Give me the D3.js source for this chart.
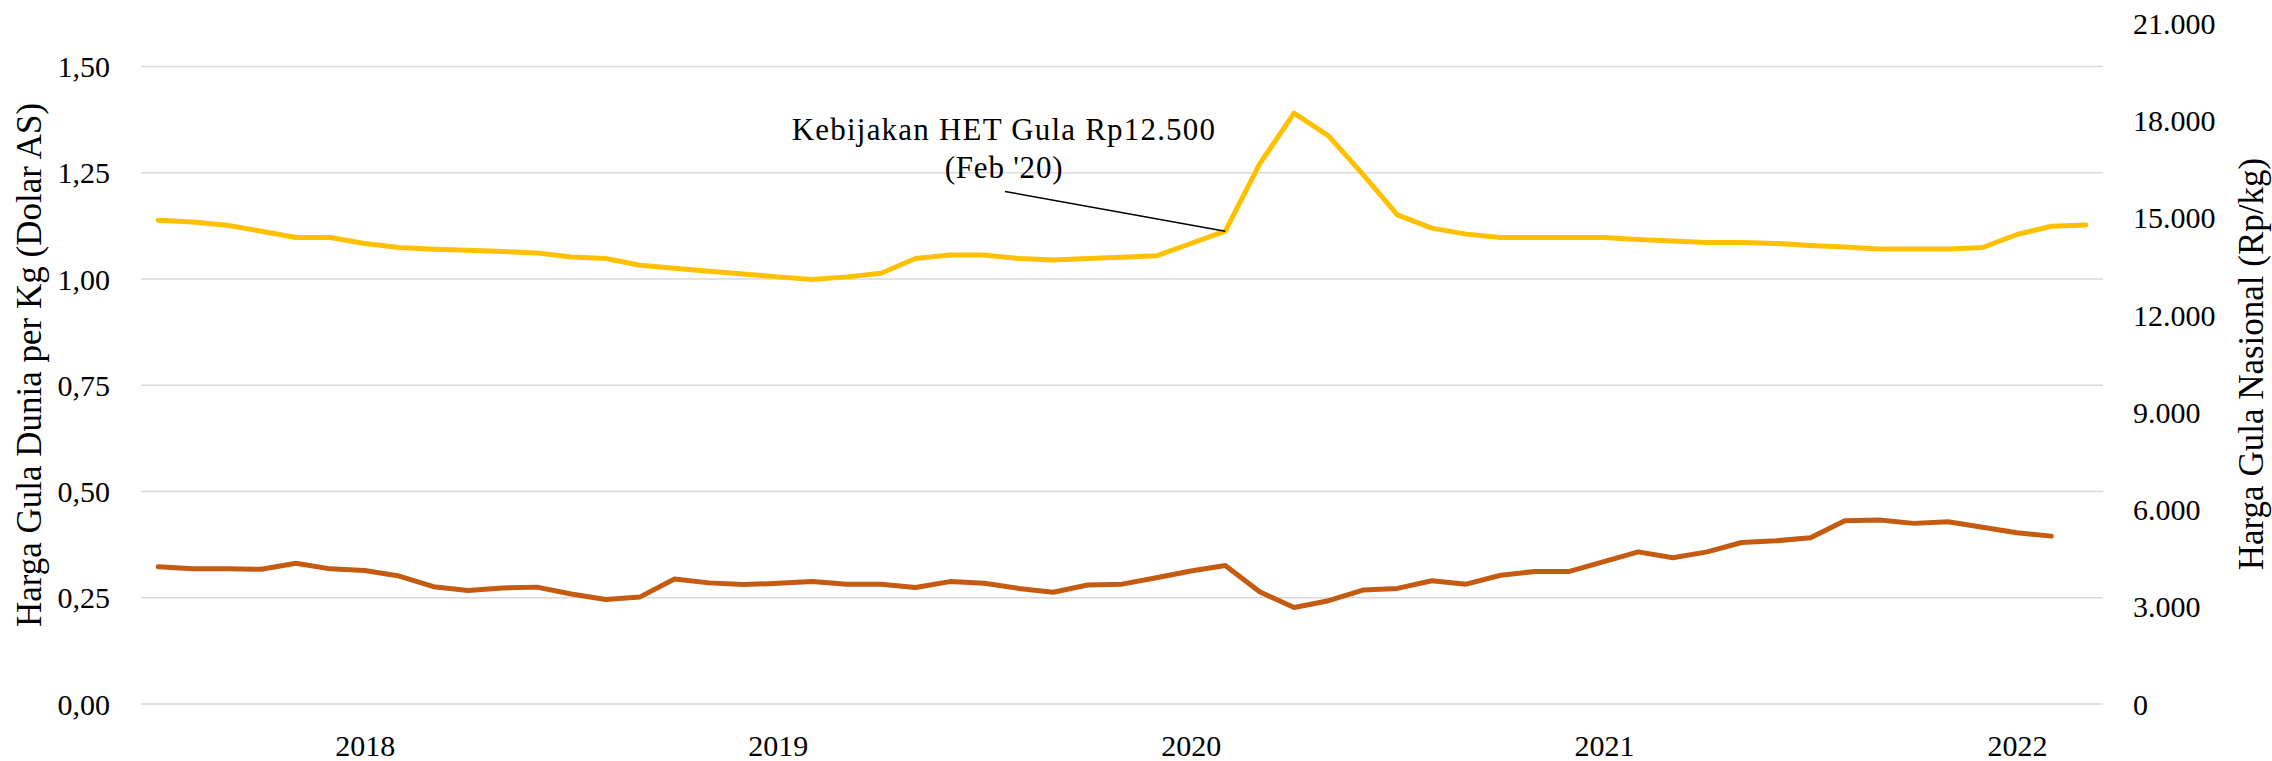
<!DOCTYPE html>
<html lang="id">
<head>
    <meta charset="UTF-8">
    <title>Harga Gula Dunia dan Nasional</title>
    <script src="https://cdn.jsdelivr.net/npm/d3@7/dist/d3.min.js"></script>
    <style>
        body { margin: 0; background: #fff; }
        svg { display: block; }
        text { font-family: "Liberation Serif", "DejaVu Serif", serif; fill: #000; }
        .tick text { font-size: 30px; }
        .grid line { stroke: #d9d9d9; stroke-width: 1.5px; }
        .series { fill: none; stroke-width: 5px; stroke-linejoin: round; stroke-linecap: round; }
    </style>
</head>
<body>
<script>
    // monthly categories, Jul 2017 .. Mar 2022
    const months = [];
    for (let y = 2017; y <= 2022; y++) {
        for (let m = 1; m <= 12; m++) {
            if ((y === 2017 && m < 7) || (y === 2022 && m > 3)) continue;
            months.push(y + "-" + String(m).padStart(2, "0"));
        }
    }

    // Harga Gula Nasional (Rp/kg), right axis
    const hargaNasional = [
        14925, 14873, 14771, 14586, 14392, 14392, 14207, 14083, 14031, 14000, 13960, 13917,
        13793, 13744, 13537, 13445, 13352, 13269, 13177, 13096, 13177, 13291, 13744, 13855,
        13855, 13744, 13701, 13744, 13784, 13827, 14207, 14586, 16661, 18231, 17528, 16337,
        15092, 14681, 14496, 14389, 14389, 14389, 14389, 14330, 14287, 14237, 14237, 14207,
        14145, 14102, 14040, 14040, 14040, 14083, 14484, 14740, 14780
    ];

    // Harga Gula Dunia per Kg (Dolar AS), left axis -- ends Feb 2022
    const hargaDunia = [
        0.323, 0.318, 0.318, 0.317, 0.331, 0.318, 0.314, 0.301, 0.276, 0.267, 0.273, 0.275,
        0.259, 0.246, 0.252, 0.294, 0.285, 0.281, 0.284, 0.288, 0.282, 0.282, 0.274, 0.288,
        0.284, 0.272, 0.263, 0.280, 0.282, 0.297, 0.313, 0.326, 0.264, 0.227, 0.243, 0.268,
        0.272, 0.290, 0.282, 0.303, 0.312, 0.312, 0.335, 0.358, 0.344, 0.358, 0.380, 0.384,
        0.391, 0.431, 0.433, 0.425, 0.429, 0.416, 0.403, 0.395
    ];

    const leftTicks = [0, 0.25, 0.5, 0.75, 1.0, 1.25, 1.5];
    const rightTicks = [0, 3000, 6000, 9000, 12000, 15000, 18000, 21000];
    const yearTicks = ["2018-01", "2019-01", "2020-01", "2021-01", "2022-01"];

    const annotationMonth = "2020-02";
    const annotationLines = ["Kebijakan HET Gula Rp12.500", "(Feb '20)"];

    const width = 2272, height = 761;
    const plot = { left: 141, right: 2103, top: 66.5, bottom: 704 };

    const svg = d3.select("body").append("svg")
        .attr("width", width)
        .attr("height", height);

    const x = d3.scalePoint()
        .domain(months)
        .range([plot.left, plot.right])
        .padding(0.5);

    const yL = d3.scaleLinear().domain([0, 1.5]).range([plot.bottom, plot.top]);
    const yR = d3.scaleLinear().domain([0, 21000]).range([plot.bottom, 23.3]);

    // gridlines
    svg.append("g")
        .attr("class", "grid")
        .selectAll("line")
        .data(leftTicks)
        .enter().append("line")
        .attr("x1", plot.left)
        .attr("x2", plot.right)
        .attr("y1", d => yL(d))
        .attr("y2", d => yL(d));

    // left axis labels
    const leftAxis = svg.append("g")
        .attr("transform", `translate(${plot.left},0)`)
        .call(d3.axisLeft(yL).tickValues(leftTicks).tickSize(0).tickPadding(31)
            .tickFormat(d => d.toFixed(2).replace(".", ",")));
    leftAxis.select(".domain").remove();
    leftAxis.selectAll("text").attr("dy", "0.34em").attr("fill", "#000");

    // right axis labels
    const rightAxis = svg.append("g")
        .attr("transform", `translate(${plot.right},0)`)
        .call(d3.axisRight(yR).tickValues(rightTicks).tickSize(0).tickPadding(30)
            .tickFormat(d => d3.format(",")(d).replace(/,/g, ".")));
    rightAxis.select(".domain").remove();
    rightAxis.selectAll("text").attr("dy", "0.34em").attr("fill", "#000");

    // bottom axis (years at January)
    const bottomAxis = svg.append("g")
        .attr("transform", `translate(0,${plot.bottom})`)
        .call(d3.axisBottom(x).tickValues(yearTicks).tickSize(0)
            .tickFormat(d => d.slice(0, 4)));
    bottomAxis.select(".domain").remove();
    bottomAxis.selectAll("text").attr("y", 52).attr("dy", 0).attr("fill", "#000");

    // lines
    const lineNasional = d3.line()
        .x((d, i) => x(months[i]))
        .y(d => yR(d));
    const lineDunia = d3.line()
        .x((d, i) => x(months[i]))
        .y(d => yL(d));

    svg.append("path")
        .datum(hargaDunia)
        .attr("class", "series")
        .attr("stroke", "#C55A11")
        .attr("d", lineDunia);

    svg.append("path")
        .datum(hargaNasional)
        .attr("class", "series")
        .attr("stroke", "#FFC000")
        .attr("d", lineNasional);

    // annotation
    const ai = months.indexOf(annotationMonth);
    const ax = x(annotationMonth), ay = yR(hargaNasional[ai]);
    const textX = 1004;

    svg.append("line")
        .attr("x1", textX + 1)
        .attr("y1", 191.5)
        .attr("x2", ax)
        .attr("y2", ay)
        .attr("stroke", "#000")
        .attr("stroke-width", 1.5);

    svg.append("g").selectAll("text")
        .data(annotationLines)
        .enter().append("text")
        .attr("x", textX)
        .attr("y", (d, i) => 140 + i * 38)
        .attr("text-anchor", "middle")
        .attr("font-size", 31)
        .attr("letter-spacing", (d, i) => i === 0 ? 1.2 : 0.8)
        .text(d => d);

    // axis titles
    svg.append("text")
        .attr("transform", `translate(41,365) rotate(-90)`)
        .attr("text-anchor", "middle")
        .attr("font-size", 35)
        .text("Harga Gula Dunia per Kg (Dolar AS)");

    svg.append("text")
        .attr("transform", `translate(2263,364) rotate(-90)`)
        .attr("text-anchor", "middle")
        .attr("font-size", 35)
        .text("Harga Gula Nasional (Rp/kg)");
</script>
</body>
</html>
